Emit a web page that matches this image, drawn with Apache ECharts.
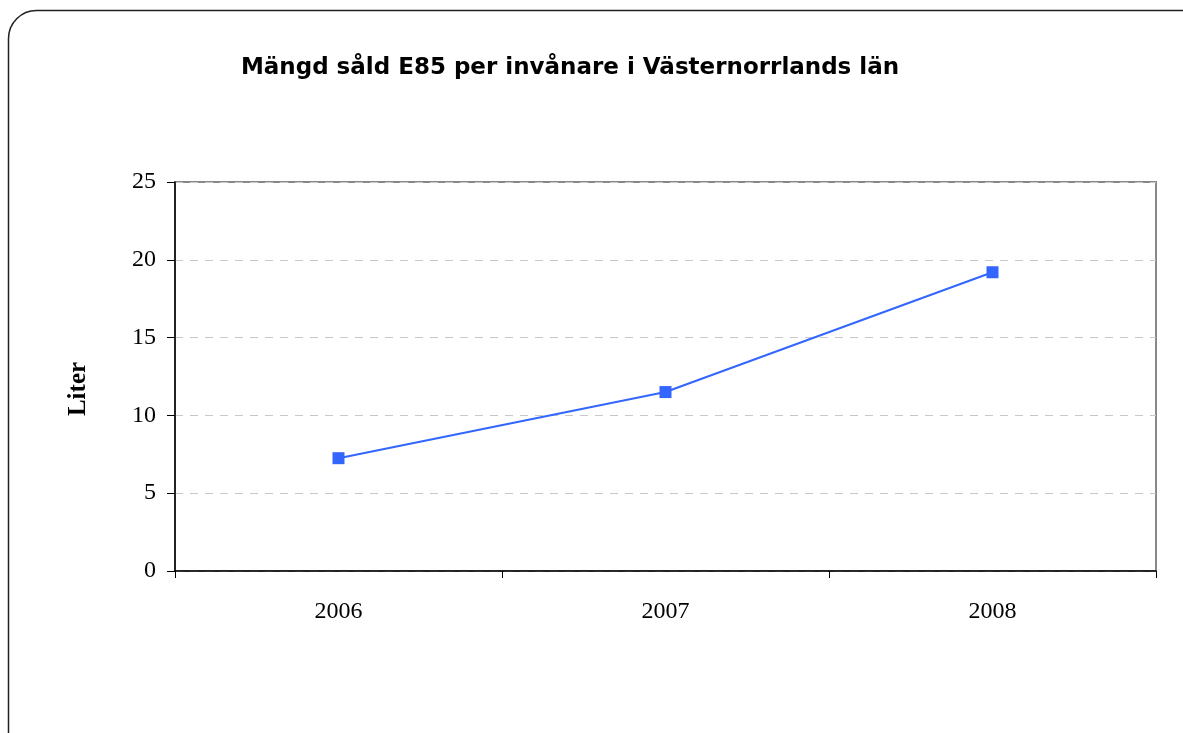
<!DOCTYPE html>
<html>
<head>
<meta charset="utf-8">
<script src="https://cdn.jsdelivr.net/npm/echarts@6/dist/echarts.min.js"></script>
<style>
  html, body { margin: 0; padding: 0; background: #fff; }
  #chart-panel { width: 1183px; height: 733px; }
</style>
</head>
<body>
<div id="chart-panel"></div>
<script>
// data
const years = ['2006', '2007', '2008']
const literPerCapita = [7.25, 11.5, 19.2]
const yTicks = { min: 0, max: 25, interval: 5 }

const serif = '"Liberation Serif", "Times New Roman", serif'

const chart = echarts.init(document.getElementById('chart-panel'))
chart.setOption({
    animation: false,
    graphic: [
        {
            type: 'rect',
            shape: { x: 8.5, y: 10.5, width: 1200, height: 760, r: 28 },
            style: { fill: 'none', stroke: '#222', lineWidth: 1.5 },
            silent: true
        },
        {
            type: 'text',
            x: 570,
            y: 68,
            style: {
                text: 'Mängd såld E85 per invånare i Västernorrlands län',
                fontFamily: '"DejaVu Sans", sans-serif',
                fontSize: 23,
                fontWeight: 'bold',
                fill: '#000',
                align: 'center',
                verticalAlign: 'middle'
            }
        },
        {
            type: 'text',
            x: 79,
            y: 389,
            rotation: Math.PI / 2,
            style: {
                text: 'Liter',
                fontFamily: serif,
                fontSize: 25,
                fontWeight: 'bold',
                fill: '#000',
                align: 'center',
                verticalAlign: 'middle'
            }
        }
    ],
    grid: {
        left: 175,
        top: 182,
        right: 27,
        bottom: 162,
        show: true,
        borderColor: '#888',
        borderWidth: 2,
        backgroundColor: 'transparent'
    },
    xAxis: {
        type: 'category',
        data: years,
        boundaryGap: true,
        axisLine: { lineStyle: { color: '#000', width: 1.5 } },
        axisTick: { show: true, length: 7, lineStyle: { color: '#000' } },
        axisLabel: { margin: 29, fontFamily: serif, fontSize: 24, color: '#000' },
        splitLine: { show: false }
    },
    yAxis: {
        type: 'value',
        min: yTicks.min,
        max: yTicks.max,
        interval: yTicks.interval,
        axisLine: { show: true, lineStyle: { color: '#000', width: 1.5 } },
        axisTick: { show: true, length: 8, lineStyle: { color: '#000' } },
        axisLabel: { margin: 19, fontFamily: serif, fontSize: 24, color: '#000' },
        splitLine: { show: true, lineStyle: { color: '#c8c8c8', type: [8, 7], width: 1 } }
    },
    series: [{
        type: 'line',
        data: literPerCapita,
        symbol: 'rect',
        symbolSize: 12,
        lineStyle: { color: '#3366FF', width: 2 },
        itemStyle: { color: '#3366FF' }
    }]
})
</script>
</body>
</html>
